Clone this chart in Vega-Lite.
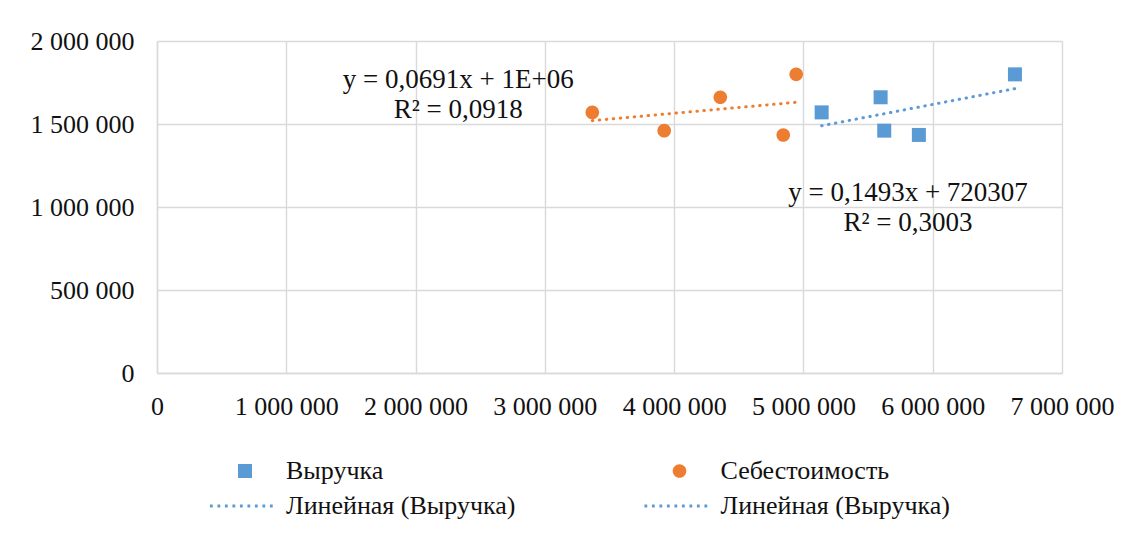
{
  "$schema": "https://vega.github.io/schema/vega-lite/v6.json",
  "width": 905,
  "height": 332,
  "autosize": {"type": "none"},
  "padding": {"left": 157, "top": 41, "right": 68, "bottom": 162},
  "background": "white",
  "config": {
    "locale": {"number": {"decimal": ",", "thousands": " ", "grouping": [3], "currency": ["", ""]}},
    "view": {"stroke": null},
    "font": "'Liberation Serif', 'Times New Roman', serif",
    "axis": {
      "grid": true,
      "gridColor": "#d9d9d9",
      "gridWidth": 1.4,
      "domainColor": "#d9d9d9",
      "domainWidth": 1.4,
      "ticks": false,
      "title": null,
      "labelFont": "'Liberation Serif', 'Times New Roman', serif",
      "labelFontSize": 26,
      "labelColor": "#111111",
      "labelFlush": false,
      "labelOverlap": false,
      "format": ",d"
    },
    "legend": {
      "labelFont": "'Liberation Serif', 'Times New Roman', serif",
      "labelFontSize": 26,
      "labelColor": "#111111",
      "labelLimit": 0,
      "symbolSize": 1156,
      "symbolStrokeWidth": 0,
      "symbolOpacity": 1,
      "labelOffset": 24,
      "columnPadding": 127.5,
      "rowPadding": 5,
      "padding": 0
    }
  },
  "datasets": {
    "points": [
      {"series": "Выручка", "x": 5141000, "y": 1570000},
      {"series": "Выручка", "x": 5597000, "y": 1661000},
      {"series": "Выручка", "x": 5625000, "y": 1460000},
      {"series": "Выручка", "x": 5893000, "y": 1434000},
      {"series": "Выручка", "x": 6636000, "y": 1799000},
      {"series": "Себестоимость", "x": 3367000, "y": 1570000},
      {"series": "Себестоимость", "x": 4357000, "y": 1661000},
      {"series": "Себестоимость", "x": 3923000, "y": 1460000},
      {"series": "Себестоимость", "x": 4844000, "y": 1434000},
      {"series": "Себестоимость", "x": 4944000, "y": 1799000}
    ],
    "notes": [
      {"label": "y = 0,0691x + 1E+06\nR² = 0,0918", "x": 2330000, "y": 1765000},
      {"label": "y = 0,1493x + 720307\nR² = 0,3003", "x": 5809000, "y": 1084000}
    ]
  },
  "layer": [
    {
      "data": {"name": "points"},
      "transform": [
        {"filter": "datum.series === 'Себестоимость'"},
        {"regression": "y", "on": "x"}
      ],
      "mark": {"type": "line", "color": "#ED7D31", "strokeWidth": 3, "strokeDash": [0.5, 6.5], "strokeCap": "round"},
      "encoding": {
        "x": {"field": "x", "type": "quantitative", "scale": {"domain": [0, 7000000], "nice": false},
              "axis": {"values": [0, 1000000, 2000000, 3000000, 4000000, 5000000, 6000000, 7000000], "labelPadding": 20}},
        "y": {"field": "y", "type": "quantitative", "scale": {"domain": [0, 2000000], "nice": false},
              "axis": {"values": [0, 500000, 1000000, 1500000, 2000000], "labelPadding": 23}}
      }
    },
    {
      "data": {"name": "points"},
      "transform": [
        {"filter": "datum.series === 'Выручка'"},
        {"regression": "y", "on": "x"}
      ],
      "mark": {"type": "line", "color": "#5B9BD5", "strokeWidth": 3, "strokeDash": [0.5, 6.5], "strokeCap": "round"},
      "encoding": {
        "x": {"field": "x", "type": "quantitative", "scale": {"domain": [0, 7000000], "nice": false}},
        "y": {"field": "y", "type": "quantitative", "scale": {"domain": [0, 2000000], "nice": false}}
      }
    },
    {
      "data": {"name": "points"},
      "mark": {"type": "point", "filled": true, "opacity": 1, "size": 1156, "strokeWidth": 0},
      "encoding": {
        "x": {"field": "x", "type": "quantitative", "scale": {"domain": [0, 7000000], "nice": false}},
        "y": {"field": "y", "type": "quantitative", "scale": {"domain": [0, 2000000], "nice": false}},
        "color": {
          "field": "series",
          "type": "nominal",
          "scale": {
            "domain": ["Выручка", "Линейная (Выручка)", "Себестоимость", "Линейная (Себестоимость)"],
            "range": ["#5B9BD5", "#5B9BD5", "#ED7D31", "#5B9BD5"]
          },
          "legend": {
            "orient": "none",
            "legendX": 71,
            "legendY": 413,
            "columns": 2,
            "title": null,
            "labelExpr": "datum.label === 'Линейная (Себестоимость)' ? 'Линейная (Выручка)' : datum.label"
          }
        },
        "shape": {
          "field": "series",
          "type": "nominal",
          "scale": {
            "domain": ["Выручка", "Линейная (Выручка)", "Себестоимость", "Линейная (Себестоимость)"],
            "range": [
              "M-0.412,-0.412H0.412V0.412H-0.412Z",
              "M-2.062,-0.082h0.165v0.165h-0.165zM-1.621,-0.082h0.165v0.165h-0.165zM-1.18,-0.082h0.165v0.165h-0.165zM-0.739,-0.082h0.165v0.165h-0.165zM-0.298,-0.082h0.165v0.165h-0.165zM0.143,-0.082h0.165v0.165h-0.165zM0.584,-0.082h0.165v0.165h-0.165zM1.025,-0.082h0.165v0.165h-0.165zM1.466,-0.082h0.165v0.165h-0.165z",
              "M-0.4,0A0.4,0.4,0,1,0,0.4,0A0.4,0.4,0,1,0,-0.4,0Z",
              "M-2.062,-0.082h0.165v0.165h-0.165zM-1.621,-0.082h0.165v0.165h-0.165zM-1.18,-0.082h0.165v0.165h-0.165zM-0.739,-0.082h0.165v0.165h-0.165zM-0.298,-0.082h0.165v0.165h-0.165zM0.143,-0.082h0.165v0.165h-0.165zM0.584,-0.082h0.165v0.165h-0.165zM1.025,-0.082h0.165v0.165h-0.165zM1.466,-0.082h0.165v0.165h-0.165z"
            ]
          }
        }
      }
    },
    {
      "data": {"name": "notes"},
      "mark": {"type": "text", "align": "center", "baseline": "middle", "lineBreak": "\n", "lineHeight": 29.5,
               "font": "'Liberation Serif', 'Times New Roman', serif", "fontSize": 27, "color": "#111111"},
      "encoding": {
        "x": {"field": "x", "type": "quantitative", "scale": {"domain": [0, 7000000], "nice": false}},
        "y": {"field": "y", "type": "quantitative", "scale": {"domain": [0, 2000000], "nice": false}},
        "text": {"field": "label"}
      }
    }
  ]
}
